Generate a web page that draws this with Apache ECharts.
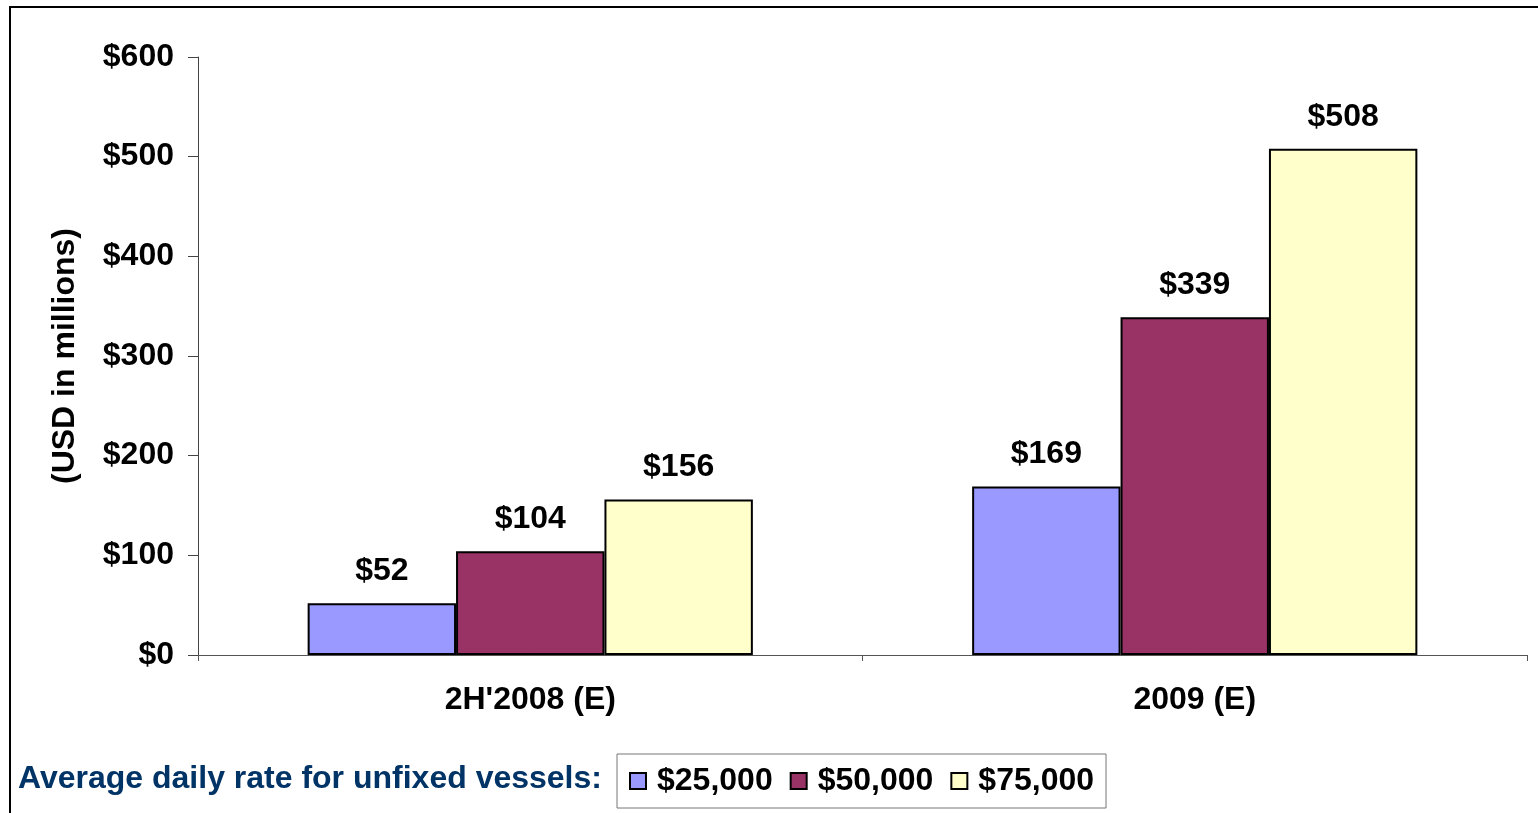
<!DOCTYPE html>
<html>
<head>
<meta charset="utf-8">
<style>
  html, body { margin: 0; padding: 0; background: #fff; }
  #chart { width: 1538px; height: 813px; }
</style>
<script src="https://cdn.jsdelivr.net/npm/echarts@6/dist/echarts.min.js"></script>
</head>
<body>
<div id="chart"></div>
<script>
// Periods and projected revenue (USD millions) per daily-rate scenario
const categories = ["2H'2008 (E)", "2009 (E)"];
const seriesNames = ["$25,000", "$50,000", "$75,000"];
const rate25k = [52, 169];
const rate50k = [104, 339];
const rate75k = [156, 508];
const yTicks = [0, 100, 200, 300, 400, 500, 600];

const colors = ['#9999FF', '#993366', '#FFFFCC'];
const font = 'Arial, "Liberation Sans", sans-serif';
const textSize = 32;

function barSeries(name, values, color) {
  return {
    name: name,
    type: 'bar',
    data: values,
    barGap: '0%',
    barCategoryGap: '33%',
    itemStyle: { color: color, borderColor: '#000', borderWidth: 2 },
    label: {
      show: true,
      position: 'top',
      distance: 16,
      formatter: p => '$' + p.value,
      fontFamily: font,
      fontWeight: 'bold',
      fontSize: textSize,
      color: '#000'
    }
  };
}

const chart = echarts.init(document.getElementById('chart'));
chart.setOption({
  animation: false,
  backgroundColor: '#fff',
  color: colors,
  grid: { left: 198, top: 57, right: 11, bottom: 158, containLabel: false },
  xAxis: {
    type: 'category',
    data: categories,
    axisLine: { lineStyle: { color: '#555', width: 1 } },
    axisTick: { show: true, length: 6, lineStyle: { color: '#555' } },
    axisLabel: {
      margin: 29,
      fontFamily: font, fontWeight: 'bold', fontSize: textSize, color: '#000'
    }
  },
  yAxis: {
    type: 'value',
    min: yTicks[0],
    max: yTicks[yTicks.length - 1],
    interval: 100,
    name: '(USD in millions)',
    nameLocation: 'middle',
    nameRotate: 90,
    nameGap: 117,
    nameTextStyle: { fontFamily: font, fontWeight: 'bold', fontSize: textSize, color: '#000' },
    axisLine: { show: true, lineStyle: { color: '#444', width: 1 } },
    axisTick: { show: true, length: 10, lineStyle: { color: '#444' } },
    splitLine: { show: false },
    axisLabel: {
      margin: 24,
      formatter: v => '$' + v,
      fontFamily: font, fontWeight: 'bold', fontSize: textSize, color: '#000'
    }
  },
  legend: {
    data: seriesNames,
    left: 617,
    top: 754,
    orient: 'horizontal',
    padding: [11, 12, 11, 12],
    itemGap: 17,
    itemWidth: 16,
    itemHeight: 16,
    icon: 'rect',
    borderColor: '#777',
    borderWidth: 1,
    textStyle: { fontFamily: font, fontWeight: 'bold', fontSize: textSize, color: '#000', padding: [0, 0, 0, 6] }
  },
  graphic: [
    {
      type: 'rect',
      shape: { x: 10, y: 7, width: 1600, height: 900 },
      style: { fill: null, stroke: '#000', lineWidth: 2 },
      silent: true
    },
    {
      type: 'text',
      left: 18,
      top: 763,
      style: {
        text: 'Average daily rate for unfixed vessels:',
        fill: '#003366',
        font: 'bold 32px Arial, "Liberation Sans", sans-serif'
      }
    }
  ],
  series: [
    barSeries(seriesNames[0], rate25k, colors[0]),
    barSeries(seriesNames[1], rate50k, colors[1]),
    barSeries(seriesNames[2], rate75k, colors[2])
  ]
});
</script>
</body>
</html>
